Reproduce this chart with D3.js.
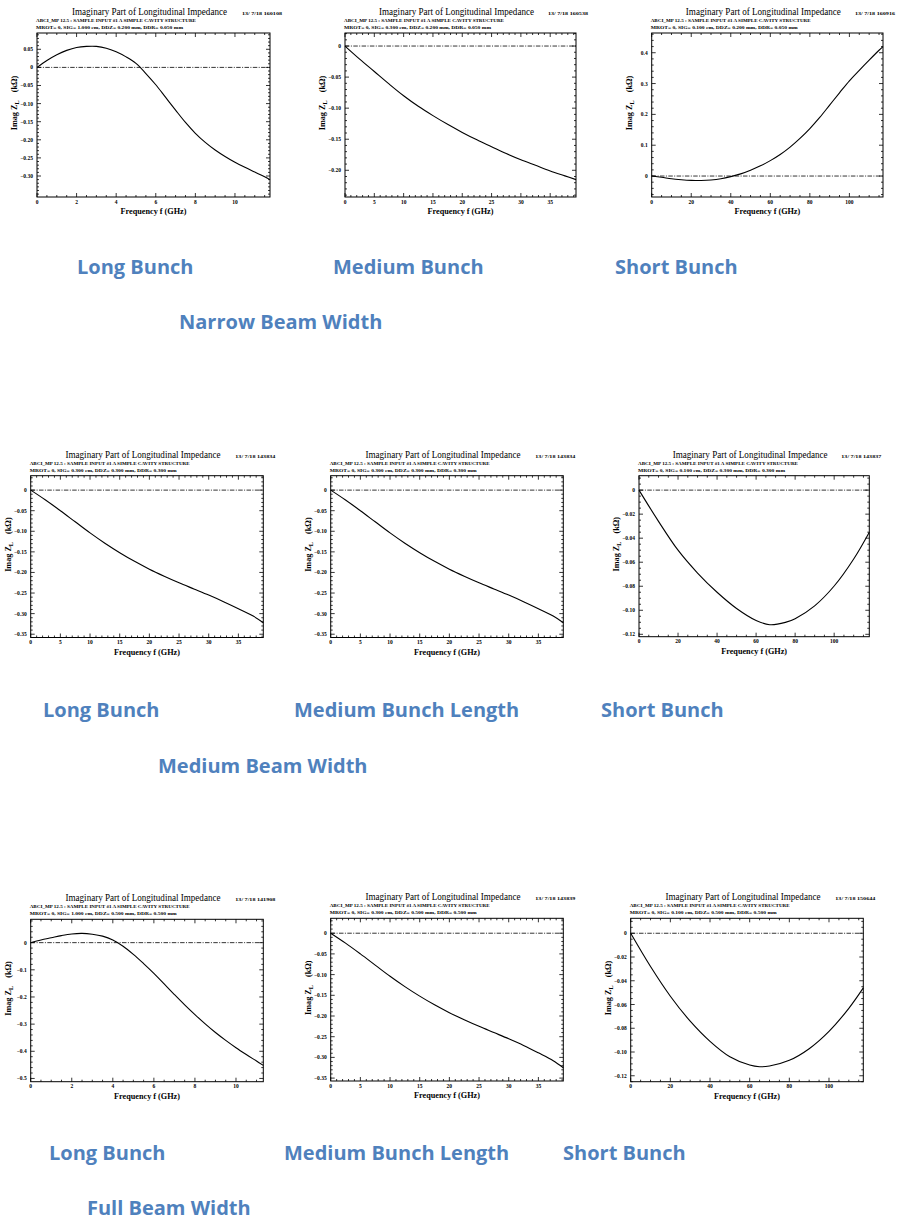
<!DOCTYPE html>
<html>
<head>
<meta charset="utf-8">
<script src="https://cdn.jsdelivr.net/npm/d3@7"></script>
<style>
  body { margin: 0; background: #fff; }
  svg { display: block; }
</style>
</head>
<body>
<svg id="viz"></svg>
<script>
// ---------------------------
// Data
// ---------------------------

const titleText = "Imaginary Part of Longitudinal Impedance";
const subLine1 = "ABCI_MP 12.5 :  SAMPLE INPUT #1   A SIMPLE CAVITY STRUCTURE";
const subLine2 = [
    "MROT= 0,  SIG= 1.000 cm,  DDZ= 0.200 mm,  DDR= 0.050 mm",
    "MROT= 0,  SIG= 0.300 cm,  DDZ= 0.200 mm,  DDR= 0.050 mm",
    "MROT= 0,  SIG= 0.100 cm,  DDZ= 0.200 mm,  DDR= 0.050 mm",
    "MROT= 0,  SIG= 0.300 cm,  DDZ= 0.300 mm,  DDR= 0.300 mm",
    "MROT= 0,  SIG= 0.300 cm,  DDZ= 0.300 mm,  DDR= 0.300 mm",
    "MROT= 0,  SIG= 0.100 cm,  DDZ= 0.300 mm,  DDR= 0.300 mm",
    "MROT= 0,  SIG= 1.000 cm,  DDZ= 0.500 mm,  DDR= 0.500 mm",
    "MROT= 0,  SIG= 0.300 cm,  DDZ= 0.500 mm,  DDR= 0.500 mm",
    "MROT= 0,  SIG= 0.100 cm,  DDZ= 0.500 mm,  DDR= 0.500 mm"
];
const dates = [
    "13/ 7/18  160108", "13/ 7/18  160538", "13/ 7/18  160916",
    "13/ 7/18  143834", "13/ 7/18  143834", "13/ 7/18  143837",
    "13/ 7/18  141908", "13/ 7/18  143839", "13/ 7/18  150644"
];

// long bunch, narrow width
const p1Freq = [0,0.5,1,1.5,2,2.5,3,3.5,4,4.5,5,5.5,6,6.5,7,7.5,8,8.5,9,9.5,10,10.5,11,11.5,11.77];
const p1Imag = [0,0.019,0.035,0.047,0.055,0.058,0.058,0.053,0.043,0.029,0.011,-0.017,-0.048,-0.083,-0.118,-0.152,-0.182,-0.207,-0.228,-0.246,-0.262,-0.276,-0.289,-0.302,-0.310];
// medium bunch, narrow width
const p2Freq = [0,2.5,5,7.5,10,12.5,15,17.5,20,22.5,25,27.5,30,32.5,35,37.5,39.4];
const p2Imag = [0,-0.021,-0.041,-0.061,-0.080,-0.097,-0.112,-0.126,-0.139,-0.151,-0.162,-0.173,-0.183,-0.192,-0.201,-0.209,-0.215];
// short bunch, narrow width
const p3Freq = [0,5,10,15,20,25,30,35,40,45,50,55,60,65,70,75,80,85,90,95,100,105,110,115,117];
const p3Imag = [0,-0.004,-0.009,-0.012,-0.014,-0.0145,-0.013,-0.009,-0.002,0.007,0.019,0.033,0.05,0.07,0.094,0.122,0.154,0.19,0.23,0.27,0.309,0.343,0.376,0.408,0.42];
// long bunch, medium width
const p4Freq = [0,2.5,5,7.5,10,12.5,15,17.5,20,22.5,25,27.5,30,32.5,35,37.5,39.2];
const p4Imag = [0,-0.024,-0.050,-0.077,-0.104,-0.129,-0.152,-0.173,-0.192,-0.209,-0.225,-0.240,-0.255,-0.271,-0.288,-0.306,-0.322];
// medium bunch, medium width
const p5Freq = [0,2.5,5,7.5,10,12.5,15,17.5,20,22.5,25,27.5,30,32.5,35,37.5,39.2];
const p5Imag = [0,-0.024,-0.050,-0.077,-0.104,-0.129,-0.152,-0.173,-0.192,-0.209,-0.225,-0.240,-0.255,-0.271,-0.288,-0.306,-0.322];
// short bunch, medium width
const p6Freq = [0,10,20,30,40,50,60,67,75,80,90,100,110,118];
const p6Imag = [0,-0.026,-0.050,-0.069,-0.085,-0.0985,-0.1085,-0.112,-0.1101,-0.107,-0.0963,-0.0798,-0.0573,-0.035];
// long bunch, full width
const p7Freq = [0,0.5,1,1.5,2,2.5,3,3.5,4,4.5,5,5.5,6,6.5,7,7.5,8,8.5,9,9.5,10,10.5,11,11.33];
const p7Imag = [0,0.01,0.018,0.026,0.032,0.034,0.031,0.024,0.01,-0.013,-0.043,-0.077,-0.113,-0.152,-0.191,-0.229,-0.265,-0.299,-0.331,-0.36,-0.387,-0.412,-0.436,-0.452];
// medium bunch, full width
const p8Freq = [0,2.5,5,7.5,10,12.5,15,17.5,20,22.5,25,27.5,30,32.5,35,37.5,39.2];
const p8Imag = [0,-0.024,-0.050,-0.077,-0.104,-0.129,-0.152,-0.173,-0.192,-0.209,-0.225,-0.240,-0.255,-0.271,-0.289,-0.308,-0.325];
// short bunch, full width
const p9Freq = [0,10,20,30,40,50,60,65,70,80,90,100,110,117.3];
const p9Imag = [0,-0.028,-0.053,-0.074,-0.091,-0.104,-0.111,-0.1124,-0.1118,-0.107,-0.0972,-0.0826,-0.0632,-0.046];

// tick labels
const xTicksLong = [0,2,4,6,8,10];
const xTicksMedium = [0,5,10,15,20,25,30,35];
const xTicksShort = [0,20,40,60,80,100];
const p1YTicks = [0.05,0,-0.05,-0.10,-0.15,-0.20,-0.25,-0.30];
const p2YTicks = [0,-0.05,-0.10,-0.15,-0.20];
const p3YTicks = [0.4,0.3,0.2,0.1,0];
const pMedYTicks = [0,-0.05,-0.10,-0.15,-0.20,-0.25,-0.30,-0.35];
const pShortYTicks = [0,-0.02,-0.04,-0.06,-0.08,-0.10,-0.12];
const p7YTicks = [0,-0.1,-0.2,-0.3,-0.4,-0.5];

const captions = ["Long Bunch","Medium Bunch","Short Bunch",
                  "Long Bunch","Medium Bunch Length","Short Bunch",
                  "Long Bunch","Medium Bunch Length","Short Bunch"];
const rowTitles = ["Narrow Beam Width","Medium Beam Width","Full Beam Width"];

// ---------------------------
// Layout
// ---------------------------

const width = 900;
const height = 1222;

const svg = d3.select("#viz")
    .attr("width", width)
    .attr("height", height)
    .attr("viewBox", `0 0 ${width} ${height}`);

const panels = [
    {l:37,    r:270,   t:33,    b:197,    xd:[0,11.77], yd:[-0.358,0.095], f:p1Freq, v:p1Imag, xt:xTicksLong,   xm:0.5, yt:p1YTicks,     ym:0.01,  dig:2},
    {l:345,   r:576,   t:33,    b:197,    xd:[0,39.4],  yd:[-0.243,0.021], f:p2Freq, v:p2Imag, xt:xTicksMedium, xm:1,   yt:p2YTicks,     ym:0.01,  dig:2},
    {l:651.7, r:883,   t:33,    b:197,    xd:[0,117],   yd:[-0.068,0.464], f:p3Freq, v:p3Imag, xt:xTicksShort,  xm:5,   yt:p3YTicks,     ym:0.02,  dig:1},
    {l:30.7,  r:263.3, t:475.7, b:637.5,  xd:[0,39.2],  yd:[-0.358,0.035], f:p4Freq, v:p4Imag, xt:xTicksMedium, xm:1,   yt:pMedYTicks,   ym:0.01,  dig:2},
    {l:330.7, r:563.3, t:475.7, b:637.5,  xd:[0,39.2],  yd:[-0.358,0.035], f:p5Freq, v:p5Imag, xt:xTicksMedium, xm:1,   yt:pMedYTicks,   ym:0.01,  dig:2},
    {l:639,   r:869.3, t:475.7, b:636.7,  xd:[0,118],   yd:[-0.122,0.012], f:p6Freq, v:p6Imag, xt:xTicksShort,  xm:5,   yt:pShortYTicks, ym:0.005, dig:2},
    {l:30.7,  r:263.3, t:919.3, b:1081.7, xd:[0,11.33], yd:[-0.512,0.086], f:p7Freq, v:p7Imag, xt:xTicksLong,   xm:0.5, yt:p7YTicks,     ym:0.02,  dig:1},
    {l:330.7, r:563.3, t:918.3, b:1081,   xd:[0,39.2],  yd:[-0.357,0.036], f:p8Freq, v:p8Imag, xt:xTicksMedium, xm:1,   yt:pMedYTicks,   ym:0.01,  dig:2},
    {l:630.7, r:863.3, t:918.3, b:1081.7, xd:[0,117.3], yd:[-0.125,0.0126],f:p9Freq, v:p9Imag, xt:xTicksShort,  xm:5,   yt:pShortYTicks, ym:0.005, dig:2}
];

const captionPos = [[77,274],[333,274],[615,274],[43,717],[294,717],[601,717],[49,1160],[284,1160],[563,1160]];
const rowTitlePos = [[179,329],[158,773],[87,1215]];

const serif = "'Liberation Serif', 'DejaVu Serif', serif";
const blue = "#4f81bd";

// ---------------------------
// Draw panels
// ---------------------------

function minorValues(domain, step){
    const out = [];
    const start = Math.ceil(domain[0] / step - 1e-9);
    const end = Math.floor(domain[1] / step + 1e-9);
    for(let i = start; i <= end; i++) out.push(i * step);
    return out;
}

panels.forEach((p, i)=>{

    const g = svg.append("g");

    const x = d3.scaleLinear().domain(p.xd).range([p.l, p.r]);
    const y = d3.scaleLinear().domain(p.yd).range([p.b, p.t]);

    // header texts
    g.append("text")
        .attr("x", (p.l + p.r)/2 - 4)
        .attr("y", p.t - 18)
        .attr("text-anchor", "middle")
        .attr("font-family", serif)
        .attr("font-size", 10)
        .attr("textLength", 155)
        .attr("lengthAdjust", "spacingAndGlyphs")
        .text(titleText);

    g.append("text")
        .attr("x", p.r - 28)
        .attr("y", p.t - 18)
        .attr("font-family", serif)
        .attr("font-weight", "bold")
        .attr("font-size", 5)
        .attr("textLength", 40)
        .attr("lengthAdjust", "spacingAndGlyphs")
        .text(dates[i]);

    g.append("text")
        .attr("x", p.l - 1)
        .attr("y", p.t - 11)
        .attr("font-family", serif)
        .attr("font-weight", "bold")
        .attr("font-size", 5)
        .attr("textLength", 160)
        .attr("lengthAdjust", "spacingAndGlyphs")
        .text(subLine1);

    g.append("text")
        .attr("x", p.l - 1)
        .attr("y", p.t - 4)
        .attr("font-family", serif)
        .attr("font-weight", "bold")
        .attr("font-size", 5)
        .attr("textLength", 147)
        .attr("lengthAdjust", "spacingAndGlyphs")
        .text(subLine2[i]);

    // frame
    g.append("rect")
        .attr("x", p.l).attr("y", p.t)
        .attr("width", p.r - p.l).attr("height", p.b - p.t)
        .attr("fill", "none")
        .attr("stroke", "#000")
        .attr("stroke-width", 1);

    // ticks, inward on all sides
    const ticks = g.append("g").attr("stroke", "#000").attr("stroke-width", 0.8);

    const xMinor = minorValues(p.xd, p.xm);
    const yMinor = minorValues(p.yd, p.ym);
    const isMajor = (v, arr)=> arr.some(a => Math.abs(a - v) < 1e-6);

    xMinor.forEach(v=>{
        const len = isMajor(v, p.xt) ? 4 : 2;
        const px = x(v);
        ticks.append("line").attr("x1", px).attr("x2", px).attr("y1", p.b).attr("y2", p.b - len);
        ticks.append("line").attr("x1", px).attr("x2", px).attr("y1", p.t).attr("y2", p.t + len);
    });

    yMinor.forEach(v=>{
        const len = isMajor(v, p.yt) ? 4 : 2;
        const py = y(v);
        ticks.append("line").attr("y1", py).attr("y2", py).attr("x1", p.l).attr("x2", p.l + len);
        ticks.append("line").attr("y1", py).attr("y2", py).attr("x1", p.r).attr("x2", p.r - len);
    });

    // tick labels
    g.selectAll(".xl")
        .data(p.xt)
        .join("text")
        .attr("x", d => x(d))
        .attr("y", p.b + 6.5)
        .attr("text-anchor", "middle")
        .attr("font-family", serif)
        .attr("font-weight", "bold")
        .attr("font-size", 5.5)
        .text(d => d);

    const fmt = d3.format(`.${p.dig}f`);

    g.selectAll(".yl")
        .data(p.yt)
        .join("text")
        .attr("x", p.l - 4)
        .attr("y", d => y(d) + 2)
        .attr("text-anchor", "end")
        .attr("font-family", serif)
        .attr("font-weight", "bold")
        .attr("font-size", 5.5)
        .text(d => d === 0 ? "0" : fmt(d).replace("-", "\u2212"));

    // axis titles
    g.append("text")
        .attr("x", (p.l + p.r)/2)
        .attr("y", p.b + 17)
        .attr("text-anchor", "middle")
        .attr("font-family", serif)
        .attr("font-weight", "bold")
        .attr("font-size", 8.2)
        .text("Frequency  f  (GHz)");

    const yl = g.append("text")
        .attr("transform", `translate(${p.l - 20},${(p.t + p.b)/2 - 12}) rotate(-90)`)
        .attr("text-anchor", "middle")
        .attr("font-family", serif)
        .attr("font-weight", "bold")
        .attr("font-size", 8.2);
    yl.append("tspan").text("Imag Z");
    yl.append("tspan").attr("font-size", 6).attr("dy", 2).text("L");
    yl.append("tspan").attr("dy", -2).text("\u2002\u2002(k\u03A9)");

    // zero line
    g.append("line")
        .attr("x1", p.l).attr("x2", p.r)
        .attr("y1", y(0)).attr("y2", y(0))
        .attr("stroke", "#000")
        .attr("stroke-width", 0.8)
        .attr("stroke-dasharray", "4.5,1.4,1,1.4");

    // curve
    const pts = p.f.map((f, k) => [f, p.v[k]]);

    g.append("path")
        .datum(pts)
        .attr("fill", "none")
        .attr("stroke", "#000")
        .attr("stroke-width", 1.1)
        .attr("d", d3.line()
            .x(d => x(d[0]))
            .y(d => y(d[1]))
            .curve(d3.curveCatmullRom.alpha(0.5)));

    // caption
    svg.append("text")
        .attr("x", captionPos[i][0])
        .attr("y", captionPos[i][1])
        .attr("font-family", "'Open Sans', 'Noto Sans', sans-serif")
        .attr("font-weight", "bold")
        .attr("font-size", 20)
        .attr("fill", blue)
        .text(captions[i]);

});

rowTitles.forEach((t, i)=>{
    svg.append("text")
        .attr("x", rowTitlePos[i][0])
        .attr("y", rowTitlePos[i][1])
        .attr("font-family", "'Open Sans', 'Noto Sans', sans-serif")
        .attr("font-weight", "bold")
        .attr("font-size", 20)
        .attr("fill", blue)
        .text(t);
});
</script>
</body>
</html>
